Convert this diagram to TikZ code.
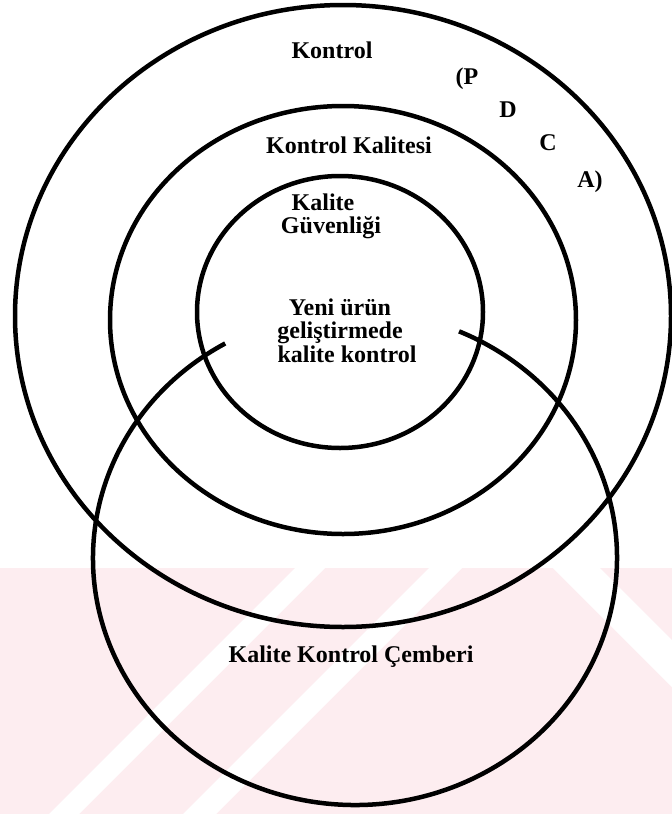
\documentclass[tikz,border=0pt]{standalone}
\usepackage{fontspec}
\setmainfont{Liberation Serif}
\usepackage{tikz}
\definecolor{wmpink}{RGB}{253,237,240}

\begin{document}
\begin{tikzpicture}[
    x=1pt, y=-1pt,
    ring/.style={draw=black, line width=4.5pt},
    lbl/.style={font=\fontsize{24}{24}\selectfont\bfseries, inner sep=0pt, anchor=base},
    stripe/.style={fill=white}
]
    % page and watermark
    \useasboundingbox (0,0) rectangle (672,814);
    \fill[white] (0,0) rectangle (672,814);
    \fill[wmpink] (0,568) rectangle (672,814);
    \fill[stripe] (295,568) -- (325,568) -- (79,814) -- (49,814) -- cycle;
    \fill[stripe] (429,568) -- (462,568) -- (216,814) -- (183,814) -- cycle;
    \fill[stripe] (553,568) -- (600,568) -- (672,640) -- (672,687) -- cycle;

    % concentric rings
    \draw[ring] (343,316) ellipse [x radius=328, y radius=311];
    \draw[ring] (343,320) ellipse [x radius=233, y radius=214];
    \draw[ring] (340,312) ellipse [x radius=143, y radius=136];

    % quality circle, open at the top
    \draw[ring] (355,558) ++(240.3:262 and 247)
        arc [start angle=240.3, end angle=-66.6, x radius=262, y radius=247];

    % labels
    \node[lbl] (kontrol) at (332,58) {Kontrol};
    \node[lbl] (kkalitesi) at (349,153) {Kontrol Kalitesi};
    \node[lbl] (guvenA) at (323,210) {Kalite};
    \node[lbl] (guvenB) at (331,233) {Güvenliği};
    \node[lbl] (yeniA) at (340,315) {Yeni ürün};
    \node[lbl] (yeniB) at (340,338) {geliştirmede};
    \node[lbl] (yeniC) at (347,362) {kalite kontrol};
    \node[lbl] (cember) at (351,662) {Kalite Kontrol Çemberi};

    % PDCA
    \node[lbl] (pdcaP) at (467,84) {(P};
    \node[lbl] (pdcaD) at (508,117) {D};
    \node[lbl] (pdcaC) at (548,150) {C};
    \node[lbl] (pdcaA) at (590,187) {A)};
\end{tikzpicture}
\end{document}
